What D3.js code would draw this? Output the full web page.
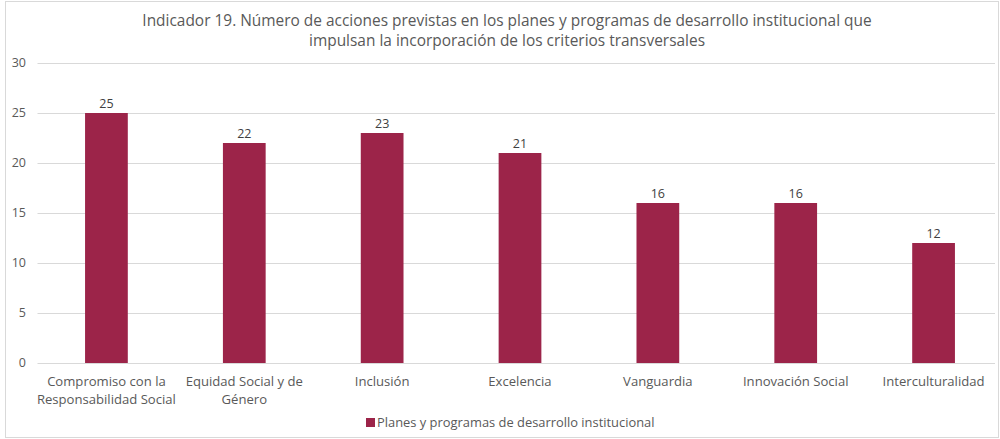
<!DOCTYPE html>
<html>
<head>
<meta charset="utf-8">
<script src="https://cdn.jsdelivr.net/npm/d3@7"></script>
<style>
  html, body { margin: 0; padding: 0; background: #fff; }
  svg { display: block; font-family: "Open Sans", "Noto Sans", sans-serif; }
</style>
</head>
<body>
<svg id="chart" width="1000" height="439"></svg>
<script>
// Indicator 19 data
const categories = [
  ["Compromiso con la", "Responsabilidad Social"],
  ["Equidad Social y de", "Género"],
  ["Inclusión"],
  ["Excelencia"],
  ["Vanguardia"],
  ["Innovación Social"],
  ["Interculturalidad"]
];
const values = [25, 22, 23, 21, 16, 16, 12];
const yTicks = [0, 5, 10, 15, 20, 25, 30];
const titleLines = [
  "Indicador 19. Número de acciones previstas en los planes y programas de desarrollo institucional que",
  "impulsan la incorporación de los criterios transversales"
];
const seriesName = "Planes y programas de desarrollo institucional";

const barColor = "#9c2449";
const textColor = "#595959";
const gridColor = "#d9d9d9";

const svg = d3.select("#chart");
const W = 1000, H = 439;

// outer frame
svg.append("rect")
  .attr("x", 5.5).attr("y", 1.5)
  .attr("width", W - 7).attr("height", H - 3)
  .attr("fill", "none").attr("stroke", gridColor);

const plot = { left: 37.5, right: 1002.5, top: 63, bottom: 363 };

const x = d3.scaleBand()
  .domain(d3.range(categories.length))
  .range([plot.left, plot.right])
  .padding(0);

const y = d3.scaleLinear()
  .domain([0, 30])
  .range([plot.bottom, plot.top]);

// gridlines
svg.append("g")
  .selectAll("line")
  .data(yTicks)
  .join("line")
  .attr("x1", plot.left).attr("x2", W - 5)
  .attr("y1", d => Math.round(y(d)) + 0.5)
  .attr("y2", d => Math.round(y(d)) + 0.5)
  .attr("stroke", gridColor)
  .attr("stroke-width", 1);

// y axis labels
svg.append("g")
  .selectAll("text")
  .data(yTicks)
  .join("text")
  .attr("x", 26)
  .attr("y", d => y(d))
  .attr("dy", "0.35em")
  .attr("text-anchor", "end")
  .attr("font-size", 12.5)
  .attr("fill", textColor)
  .text(d => d);

// bars
const barW = x.bandwidth() * 0.31;
svg.append("g")
  .selectAll("rect")
  .data(values)
  .join("rect")
  .attr("x", (d, i) => x(i) + x.bandwidth() / 2 - barW / 2)
  .attr("y", d => y(d))
  .attr("width", barW)
  .attr("height", d => y(0) - y(d))
  .attr("fill", barColor);

// value labels
svg.append("g")
  .selectAll("text")
  .data(values)
  .join("text")
  .attr("x", (d, i) => x(i) + x.bandwidth() / 2)
  .attr("y", d => y(d) - 5)
  .attr("text-anchor", "middle")
  .attr("font-size", 12.5)
  .attr("fill", "#404040")
  .text(d => d);

// category labels
const catG = svg.append("g");
categories.forEach((lines, i) => {
  const t = catG.append("text")
    .attr("text-anchor", "middle")
    .attr("font-size", 13.1)
    .attr("fill", textColor);
  lines.forEach((ln, j) => {
    t.append("tspan")
      .attr("x", x(i) + x.bandwidth() / 2)
      .attr("y", 386 + j * 18)
      .text(ln);
  });
});

// title
const title = svg.append("text")
  .attr("text-anchor", "middle")
  .attr("font-size", 15.45)
  .attr("fill", textColor);
titleLines.forEach((ln, j) => {
  title.append("tspan")
    .attr("x", 507)
    .attr("y", 26 + j * 20)
    .text(ln);
});

// legend
const legend = svg.append("g");
legend.append("rect")
  .attr("x", 366).attr("y", 418)
  .attr("width", 9).attr("height", 9)
  .attr("fill", barColor);
legend.append("text")
  .attr("x", 377).attr("y", 427)
  .attr("font-size", 12.9)
  .attr("fill", textColor)
  .text(seriesName);
</script>
</body>
</html>
